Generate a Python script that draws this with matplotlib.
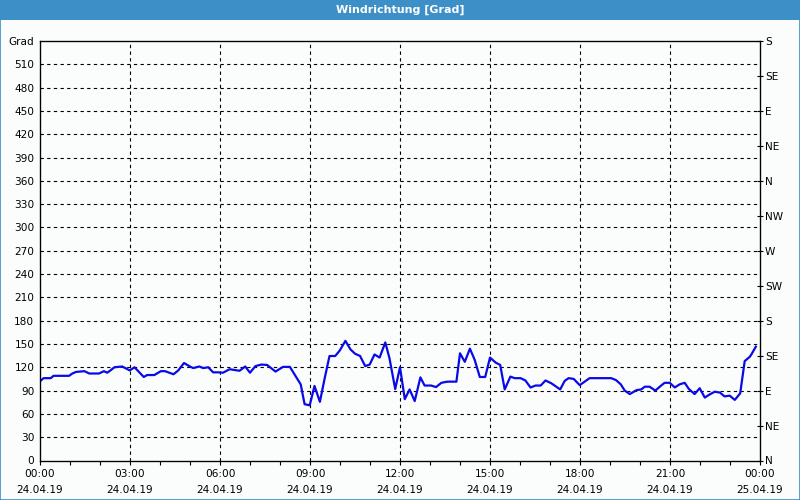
import matplotlib
matplotlib.use('Agg')
import matplotlib.pyplot as plt
from matplotlib.patches import Rectangle

# hours since 24.04.19 00:00 and wind direction in degrees
hours = [0.0, 0.12, 0.36, 0.45, 0.97, 1.08, 1.2, 1.48, 1.64, 1.97, 2.13, 2.24,
         2.35, 2.48, 2.74, 2.99, 3.15, 3.46, 3.57, 3.81, 4.03, 4.17, 4.45, 4.61,
         4.8, 5.02, 5.11, 5.31, 5.44, 5.61, 5.77, 5.93, 6.1, 6.32, 6.65, 6.84,
         7.0, 7.18, 7.38, 7.57, 7.85, 8.1, 8.33, 8.5, 8.69, 8.82, 8.99, 9.15,
         9.33, 9.49, 9.65, 9.84, 9.99, 10.18, 10.35, 10.5, 10.67, 10.84, 10.99,
         11.15, 11.32, 11.51, 11.65, 11.84, 12.0, 12.16, 12.32, 12.49, 12.68,
         12.82, 13.04, 13.2, 13.38, 13.58, 13.88, 14.0, 14.16, 14.33, 14.49,
         14.66, 14.84, 15.0, 15.19, 15.34, 15.49, 15.68, 15.82, 16.02, 16.18,
         16.35, 16.52, 16.69, 16.85, 17.04, 17.34, 17.49, 17.62, 17.79, 17.99,
         18.32, 19.04, 19.2, 19.36, 19.49, 19.66, 19.88, 20.04, 20.16, 20.32,
         20.51, 20.66, 20.82, 20.99, 21.16, 21.32, 21.49, 21.63, 21.82, 21.99,
         22.16, 22.32, 22.49, 22.66, 22.82, 22.99, 23.16, 23.34, 23.49, 23.66,
         23.72, 23.86]
degrees = [102, 106, 106, 109, 109, 112, 114, 115, 112, 112, 115, 113,
           116, 120, 121, 116, 120, 107.5, 110, 110, 115, 115, 111, 116,
           125.5, 120.5, 119, 121, 119, 120, 113.5, 113.5, 113, 117.5, 115.5, 121,
           113, 121.5, 123.5, 123, 114.5, 120.5, 120.5, 110, 98, 72.5, 71, 96,
           75.5, 106, 134.5, 134.5, 141.5, 154, 143, 137.5, 134.5, 121.5, 123.5,
           136.5, 132.5, 152, 131.5, 92, 120, 79, 91.5, 76.5, 107,
           96.5, 96.5, 94.5, 100, 101.5, 101.5, 138, 127, 144, 129.5,
           107.5, 107.5, 132.5, 126, 123, 91.5, 108, 106, 106, 103,
           94, 96.5, 96.5, 103, 99.5, 91.5, 102.5, 106, 105, 97,
           106, 106, 103.5, 98, 90, 85.5, 90.5, 91.5, 95, 95,
           90, 95, 100, 100, 94, 98, 100, 92, 85.5, 93,
           81, 85, 88.5, 87.5, 82.5, 83.5, 78, 86.5, 128, 133.5,
           137, 146.5]

x_ticks = [0, 3, 6, 9, 12, 15, 18, 21, 24]
x_labels = ["00:00\n24.04.19", "03:00\n24.04.19", "06:00\n24.04.19",
            "09:00\n24.04.19", "12:00\n24.04.19", "15:00\n24.04.19",
            "18:00\n24.04.19", "21:00\n24.04.19", "00:00\n25.04.19"]
y_ticks = list(range(0, 541, 30))
y_labels = [str(v) for v in range(0, 511, 30)] + ["Grad"]
dir_ticks = list(range(0, 541, 45))
dir_labels = ["N", "NE", "E", "SE", "S", "SW", "W", "NW", "N", "NE", "E", "SE", "S"]

plt.rcParams['font.family'] = ['DejaVu Sans']
plt.rcParams['font.size'] = 7.6

fig = plt.figure(figsize=(8, 5), dpi=100)
fig.patch.set_facecolor('#fbfdfc')

# title bar and window border
fig.patches.append(Rectangle((0, 0.96), 1, 0.04, transform=fig.transFigure,
                             facecolor='#3c8fc7', edgecolor='none', zorder=0))
fig.patches.append(Rectangle((0.0006, 0.001), 0.9988, 0.998, transform=fig.transFigure,
                             facecolor='none', edgecolor='#3c8fc7', linewidth=1.2, zorder=0))
fig.text(0.5, 0.98, "Windrichtung [Grad]", color='white', ha='center', va='center',
         fontsize=8, fontweight='bold')

ax1 = fig.add_axes([0.05, 0.079, 0.9, 0.839])
ax1.set_facecolor('#fbfdfc')
ax1.plot(hours, degrees, color='#0a0ae8', linewidth=1.6, zorder=3)

ax1.set_xlim(0, 24)
ax1.set_ylim(0, 540)
ax1.set_xticks(x_ticks)
ax1.set_xticklabels(x_labels, linespacing=1.75)
ax1.set_xticks(range(0, 25), minor=True)
ax1.set_yticks(y_ticks)
ax1.set_yticklabels(y_labels)
ax1.tick_params(axis='y', length=0, pad=4)
ax1.tick_params(axis='x', which='both', direction='out', length=3, pad=3, width=0.8)

for v in y_ticks[1:-1]:
    ax1.axhline(v, color='black', linestyle=(0, (3, 3)), linewidth=0.8, zorder=1)
for h in x_ticks[1:-1]:
    ax1.axvline(h, color='black', linestyle=(0, (3, 3)), linewidth=0.8, zorder=1)

for s in ax1.spines.values():
    s.set_linewidth(0.9)

ax2 = ax1.twinx()
ax2.set_ylim(0, 540)
ax2.set_yticks(dir_ticks)
ax2.set_yticklabels(dir_labels)
ax2.tick_params(axis='y', direction='inout', length=5, pad=1, width=0.8)

plt.savefig("out.png", dpi=100, facecolor=fig.get_facecolor())
